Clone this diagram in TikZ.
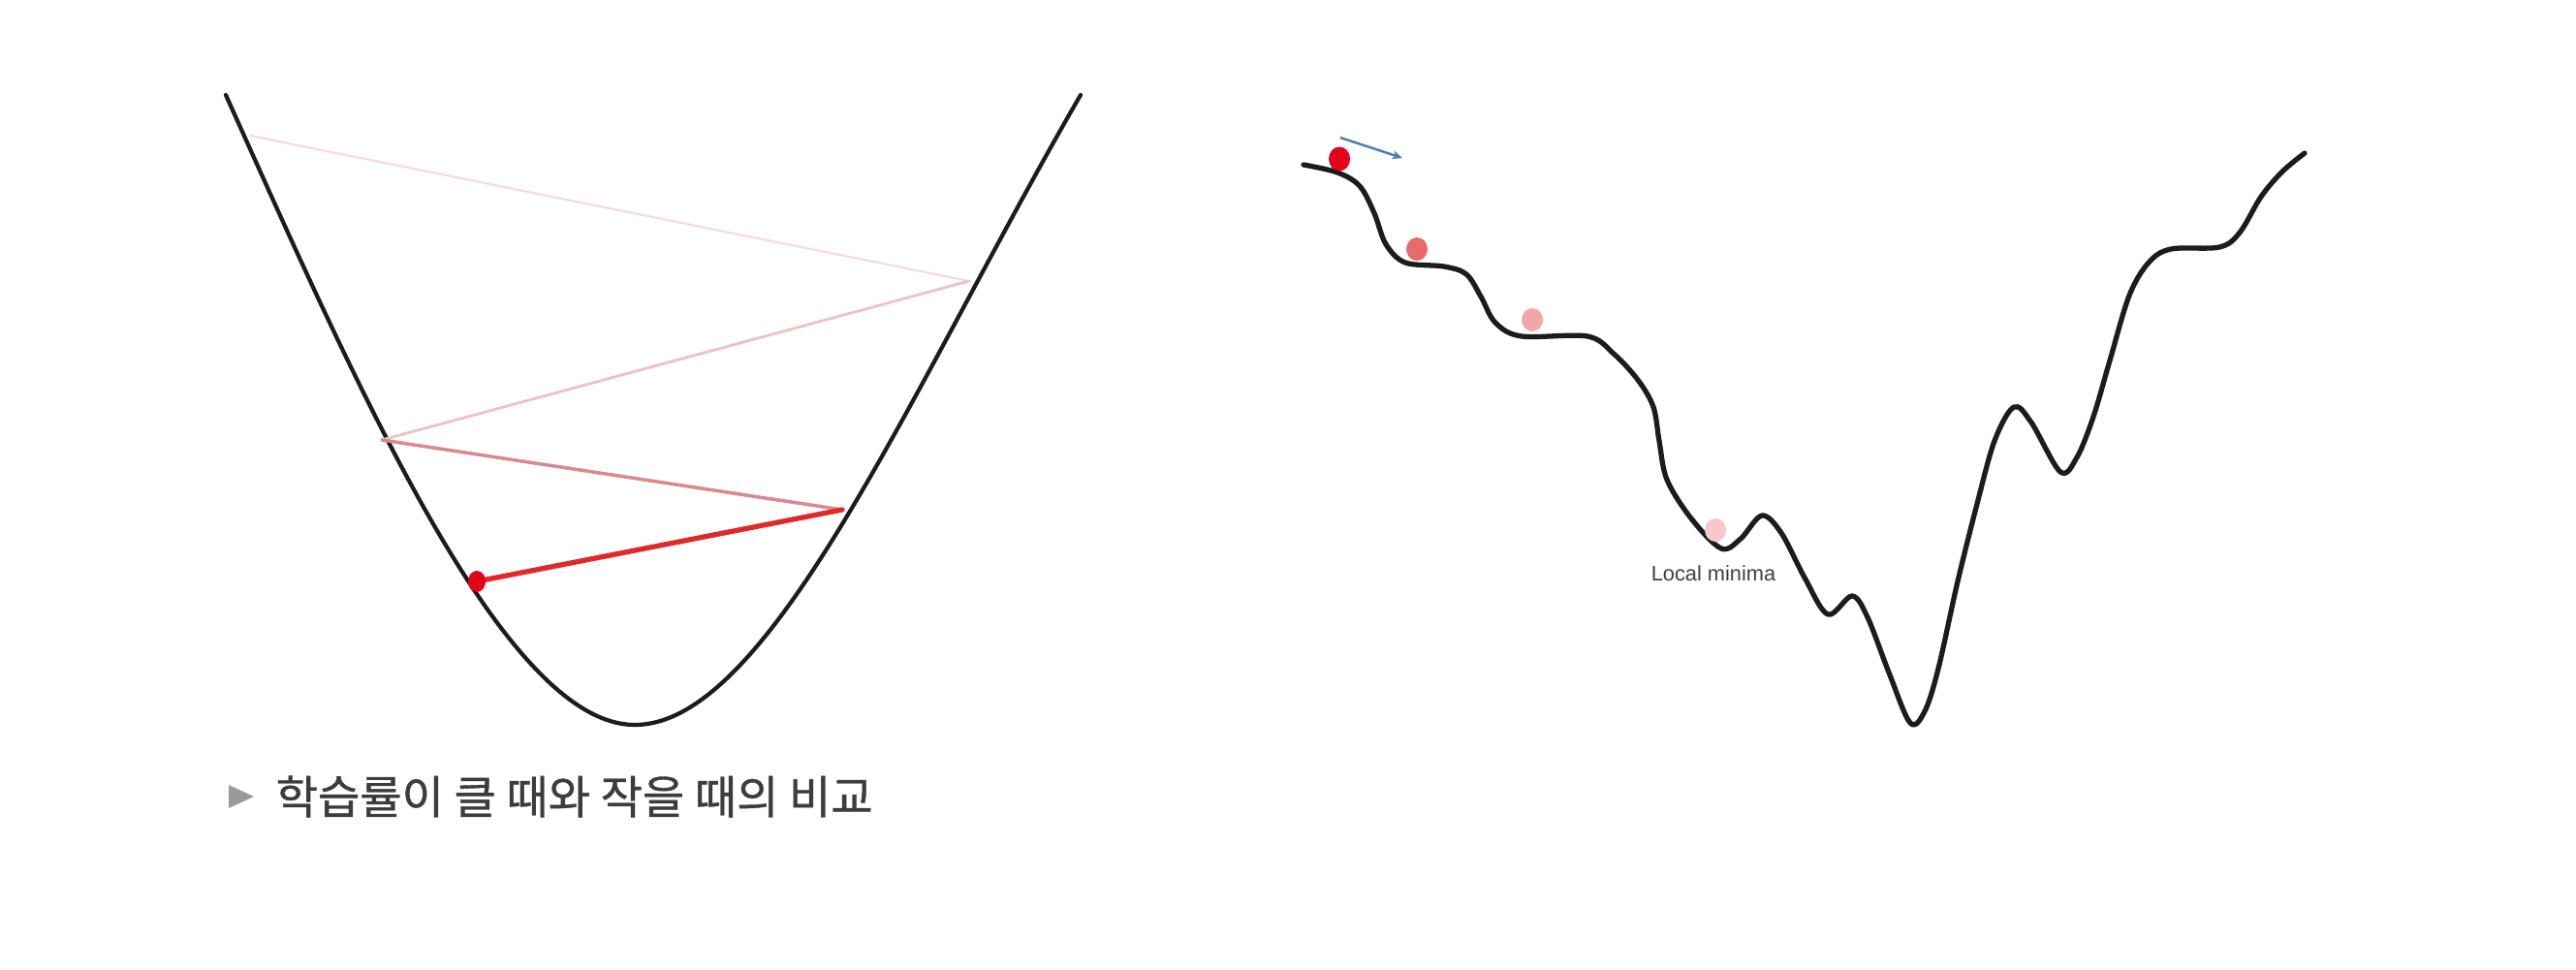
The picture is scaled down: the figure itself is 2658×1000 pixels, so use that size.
\documentclass[tikz,border=0pt]{standalone}
\usepackage{fontspec}
\setmainfont{Liberation Sans}
\newfontfamily\kofont[FakeBold=0.8]{Noto Sans CJK KR}
\usetikzlibrary{arrows.meta,shapes.geometric}
\definecolor{curveblack}{HTML}{1C1C1C}
\definecolor{zzA}{HTML}{F9DADA}
\definecolor{zzB}{HTML}{EEC2C4}
\definecolor{zzC}{HTML}{D98A90}
\definecolor{zzD}{HTML}{E02A2A}
\definecolor{ballA}{HTML}{E2001A}
\definecolor{ballB}{HTML}{E96A6A}
\definecolor{ballC}{HTML}{F2A7A7}
\definecolor{ballD}{HTML}{F6C8CC}
\definecolor{arrowblue}{HTML}{4A7FB0}
\definecolor{titlegray}{HTML}{3C3C3C}
\definecolor{trigray}{HTML}{9A9A9A}
\definecolor{labelgray}{HTML}{404040}
\begin{document}
\begin{tikzpicture}[x=0.1mm,y=-0.1mm,
  curve/.style={draw=curveblack,line width=1.2pt,line cap=round,line join=round},
  hill/.style={draw=curveblack,line width=1.5pt,line cap=round,line join=round},
  zig/.style={line width=#1,line cap=round},
  ballnode/.style={ellipse,fill=#1,draw=none,inner sep=0pt,minimum width=2.2mm,minimum height=2.4mm}]
\useasboundingbox (0,0) rectangle (2658,1000);
\fill[white] (0,0) rectangle (2658,1000);

% ---------- left: parabola ----------
\coordinate (ltop) at (233,98);
\coordinate (vtx) at (655,748);
\coordinate (rtop) at (1115,98);
\draw[curve] (ltop) .. controls (368,398) and (520,748) .. (vtx)
                    .. controls (795,748) and (941,398) .. (rtop);

\coordinate (p0) at (258,140);
\coordinate (p1) at (1000,290);
\coordinate (p2) at (394,454);
\coordinate (p3) at (869,526);
\coordinate (b0) at (492,600);

\draw[zig=0.6pt,zzA] (p0) -- (p1);
\draw[zig=0.8pt,zzB] (p1) -- (p2);
\draw[zig=1.0pt,zzC] (p2) -- (p3);
\draw[zig=1.5pt,zzD] (p3) -- (b0);
\node[ballnode=ballA,minimum width=1.8mm,minimum height=2.2mm] (ball0) at (b0) {};

% title
\fill[trigray] (236,810) -- (262,822) -- (236,834) -- cycle;
\node[anchor=west,inner sep=0pt,text=titlegray,font=\kofont\fontsize{13.4pt}{16pt}\selectfont] (title) at (284,822) {학습률이 클 때와 작을 때의 비교};

% ---------- right: bumpy landscape ----------
\draw[hill] plot[smooth,tension=0.55] coordinates {
  (1345,170) (1380,178) (1403,192) (1418,220) (1430,252) (1450,271) (1490,275)
  (1513,283) (1528,306) (1543,333) (1570,347) (1638,347) (1665,365) (1690,392)
  (1706,420) (1712,455) (1720,495) (1745,535) (1776,566) (1796,556) (1818,532)
  (1838,550) (1862,596) (1886,634) (1911,615) (1927,637) (1949,694) (1971,746)
  (1986,734) (2000,690) (2020,600) (2040,520) (2058,455) (2078,420) (2096,436)
  (2126,487) (2143,472) (2160,430) (2177,372) (2197,305) (2217,271) (2240,257)
  (2290,255) (2311,240) (2333,203) (2355,177) (2378,158)};

\node[ballnode=ballA,minimum width=2.2mm,minimum height=2.5mm] (r1) at (1382,164) {};
\node[ballnode=ballB] (r2) at (1462,257) {};
\node[ballnode=ballC] (r3) at (1581,330) {};
\node[ballnode=ballD] (r4) at (1770,547) {};

\coordinate (a0) at (1383,142);
\coordinate (a1) at (1447,163);
\draw[arrowblue,line width=0.7pt,-{Stealth[length=3pt,width=2.6pt]}] (a0) -- (a1);

\node[text=labelgray,inner sep=0pt,font=\fontsize{6.2pt}{7pt}\selectfont] (lm) at (1768,592) {Local minima};
\end{tikzpicture}
\end{document}
